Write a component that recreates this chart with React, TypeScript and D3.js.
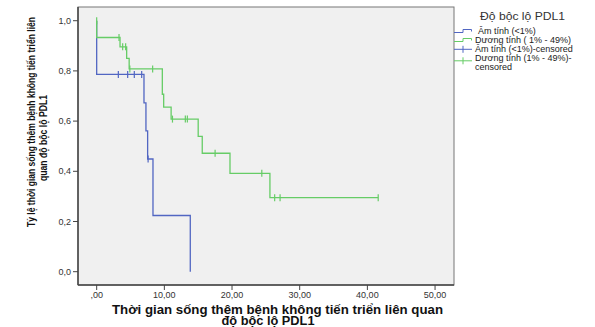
import React from "react";
import * as d3 from "d3";

// Kaplan-Meier steps
const amTimes = [0, 0, 6.99, 7.28, 7.53, 8.32, 13.83];
const amValues = [1.0, 0.786, 0.673, 0.561, 0.449, 0.224, 0.0];
const amCensorTimes = [3.2, 4.58, 5.56, 6.65, 7.6];
const amCensorValues = [0.786, 0.786, 0.786, 0.786, 0.449];

const duongTimes = [0, 0, 3.45, 4.43, 4.8, 9.7, 9.9, 11.0, 15.0, 15.6, 19.7, 25.6, 41.6];
const duongValues = [1.0, 0.933, 0.896, 0.85, 0.808, 0.707, 0.656, 0.608, 0.539, 0.472, 0.392, 0.295, 0.295];
const duongCensorTimes = [0, 3.3, 3.84, 4.28, 4.9, 8.27, 11.2, 13.1, 13.4, 17.5, 24.4, 26.3, 27.1, 41.6];
const duongCensorValues = [1.0, 0.933, 0.896, 0.896, 0.808, 0.808, 0.608, 0.608, 0.608, 0.472, 0.392, 0.295, 0.295, 0.295];

const xTicks = [0, 10, 20, 30, 40, 50];
const yTicks = [0, 0.2, 0.4, 0.6, 0.8, 1.0];

const legendTitle = "Độ bộc lộ PDL1";
const legendLabels = [
  "Âm tính (<1%)",
  "Dương tính ( 1% - 49%)",
  "Âm tính (<1%)-censored",
  "Dương tính (1% - 49%)-",
];

const BLUE = "#5166c2";
const GREEN = "#66cc66";
const FONT = "Arial, 'Liberation Sans', sans-serif";

const fmtX = (v: number) => (v === 0 ? ",00" : v.toFixed(2).replace(".", ","));
const fmtY = (v: number) => v.toFixed(1).replace(".", ",");

export default function App() {
  const width = 595;
  const height = 327;
  const frame = { left: 78, right: 454, top: 7, bottom: 285 };

  const x = d3.scaleLinear().domain([-2.76, 52.8]).range([frame.left, frame.right]);
  const y = d3.scaleLinear().domain([-0.053, 1.0546]).range([frame.bottom, frame.top]);

  const line = d3
    .line<[number, number]>()
    .x((d) => x(d[0]))
    .y((d) => y(d[1]))
    .curve(d3.curveStepAfter);

  const amPath = line(amTimes.map((t, i) => [t, amValues[i]]));
  const duongPath = line(duongTimes.map((t, i) => [t, duongValues[i]]));

  const censor = (times: number[], values: number[], color: string, key: string) =>
    times.map((t, i) => (
      <line
        key={key + i}
        x1={x(t)}
        x2={x(t)}
        y1={y(values[i]) - 3.5}
        y2={y(values[i]) + 3.5}
        stroke={color}
        strokeWidth={1.2}
      />
    ));

  const lx = 454; // legend symbol start
  const rows = [31, 40, 49.3, 58.3];

  return (
    <div style={{ position: "absolute", left: 0, top: 0 }}>
      <svg width={width} height={height} style={{ display: "block", background: "white" }}>
        {/* plot area */}
        <rect
          x={frame.left}
          y={frame.top}
          width={frame.right - frame.left}
          height={frame.bottom - frame.top}
          fill="#f0f0f0"
          stroke="#777"
          strokeWidth={1}
        />
        <line x1={frame.left} x2={frame.left} y1={frame.top} y2={frame.bottom} stroke="#444" strokeWidth={1.5} />
        <line x1={frame.left} x2={frame.right} y1={frame.bottom} y2={frame.bottom} stroke="#444" strokeWidth={1.5} />

        {/* y axis */}
        {yTicks.map((v) => (
          <g key={"y" + v}>
            <line x1={frame.left - 5} x2={frame.left} y1={y(v)} y2={y(v)} stroke="#444" />
            <text
              x={71}
              y={y(v)}
              dy="0.35em"
              textAnchor="end"
              fontSize={9}
              fontFamily={FONT}
              fill="#333"
            >
              {fmtY(v)}
            </text>
          </g>
        ))}

        {/* x axis */}
        {xTicks.map((v) => (
          <g key={"x" + v}>
            <line x1={x(v)} x2={x(v)} y1={frame.bottom} y2={frame.bottom + 5} stroke="#444" />
            <text
              x={x(v)}
              y={298}
              textAnchor="middle"
              fontSize={9}
              fontFamily={FONT}
              fill="#333"
            >
              {fmtX(v)}
            </text>
          </g>
        ))}

        {/* curves */}
        <path d={amPath ?? ""} fill="none" stroke={BLUE} strokeWidth={1.3} />
        <path d={duongPath ?? ""} fill="none" stroke={GREEN} strokeWidth={1.3} />
        {censor(amCensorTimes, amCensorValues, BLUE, "ac")}
        {censor(duongCensorTimes, duongCensorValues, GREEN, "dc")}

        {/* axis titles */}
        <text
          x={277.5}
          y={314}
          textAnchor="middle"
          fontSize={12}
          fontWeight="bold"
          fontFamily={FONT}
          fill="#111"
          textLength={331}
          lengthAdjust="spacingAndGlyphs"
        >
          Thời gian sống thêm bệnh không tiến triển liên quan
        </text>
        <text
          x={268}
          y={325}
          textAnchor="middle"
          fontSize={12}
          fontWeight="bold"
          fontFamily={FONT}
          fill="#111"
          textLength={93}
          lengthAdjust="spacingAndGlyphs"
        >
          độ bộc lộ PDL1
        </text>
        <text
          transform="translate(35,122) rotate(-90)"
          textAnchor="middle"
          fontSize={11.5}
          fontWeight="bold"
          fontFamily={FONT}
          fill="#111"
          textLength={210}
          lengthAdjust="spacingAndGlyphs"
        >
          Tỷ lệ thời gian sống thêm bệnh không tiến triển liên
        </text>
        <text
          transform="translate(47,138) rotate(-90)"
          textAnchor="middle"
          fontSize={11.5}
          fontWeight="bold"
          fontFamily={FONT}
          fill="#111"
          textLength={86}
          lengthAdjust="spacingAndGlyphs"
        >
          quan độ bộc lộ PDL1
        </text>

        {/* legend */}
        <text
          x={480}
          y={19.5}
          fontSize={11}
          fontFamily={FONT}
          fill="#333"
          textLength={85}
          lengthAdjust="spacingAndGlyphs"
        >
          {legendTitle}
        </text>
        <path
          d={`M${lx},${rows[0] + 1.5}H${lx + 9}V${rows[0] - 1.5}H${lx + 17.5}V${rows[0] + 0.5}`}
          fill="none"
          stroke={BLUE}
          strokeWidth={1}
        />
        <path
          d={`M${lx},${rows[1] + 1.5}H${lx + 9}V${rows[1] - 1.5}H${lx + 17.5}V${rows[1] + 0.5}`}
          fill="none"
          stroke={GREEN}
          strokeWidth={1}
        />
        <line x1={lx} x2={lx + 18} y1={rows[2]} y2={rows[2]} stroke={BLUE} />
        <line x1={lx + 9} x2={lx + 9} y1={rows[2] - 3.5} y2={rows[2] + 3.5} stroke={BLUE} />
        <line x1={lx} x2={lx + 18} y1={rows[3] + 2.5} y2={rows[3] + 2.5} stroke={GREEN} />
        <line x1={lx + 9} x2={lx + 9} y1={rows[3] - 1} y2={rows[3] + 6} stroke={GREEN} />
        {legendLabels.map((label, i) => (
          <text
            key={label}
            x={i === 0 ? 478 : 475}
            y={rows[i]}
            dy="0.35em"
            fontSize={9}
            fontFamily={FONT}
            fill="#222"
          >
            {label}
          </text>
        ))}
        <text x={475} y={67} dy="0.35em" fontSize={9} fontFamily={FONT} fill="#222">
          censored
        </text>
      </svg>
    </div>
  );
}
